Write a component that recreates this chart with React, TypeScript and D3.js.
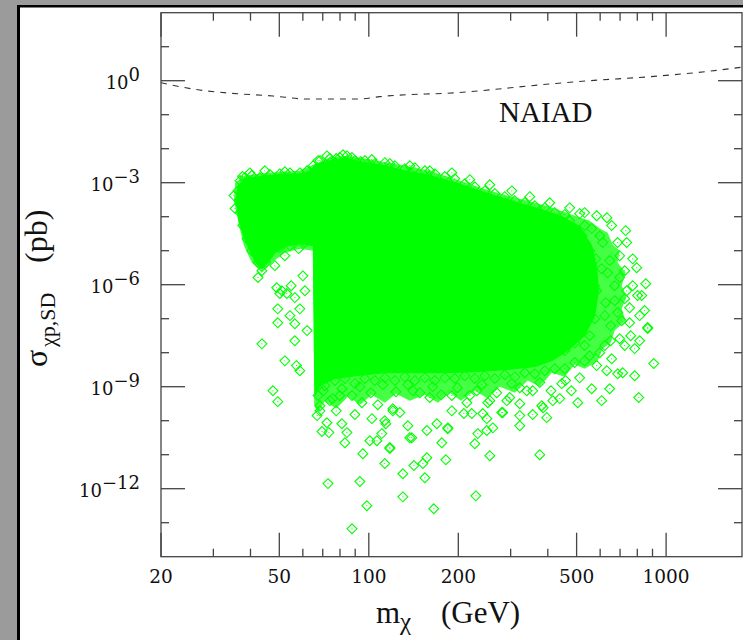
import React, { useEffect, useRef } from "react";
import * as d3 from "d3";

// NAIAD upper limit (mass in GeV, sigma in pb)
const naiadMass = [20, 27, 34.1, 47.6, 61.9, 93.3, 108.9, 202, 406, 553, 881, 1513, 1800];
const naiadSigma = [0.87, 0.53, 0.43, 0.355, 0.29, 0.29, 0.34, 0.45, 0.8, 1.0, 1.31, 2.06, 2.5];

// outer envelope of the scan where points overlap into a mesh [mass GeV, log10 sigma pb]
const meshRegion: [number, number][] = [
  [35.5, -3.0], [38.3, -2.79], [46.5, -2.71], [58.6, -2.65], [65.0, -2.47], [74.0, -2.26],
  [84.4, -2.21], [100.8, -2.32], [127.2, -2.47], [160.4, -2.65], [202.4, -2.94], [255.3, -3.24],
  [322, -3.47], [406.1, -3.71], [492.8, -3.97], [553.4, -4.12], [597.9, -4.35], [636, -4.47],
  [661, -4.82], [698.1, -5.0], [687, -5.35], [731, -5.65], [709, -6.03], [737, -6.35],
  [709, -6.71], [731, -7.06], [671.5, -7.35], [651, -7.71], [612, -7.88], [589, -8.24],
  [532.4, -8.47], [492.8, -8.35], [456.1, -8.71], [412.5, -8.59], [375.9, -9.0], [342.6, -8.82],
  [309.8, -9.18], [275.8, -9.0], [251.4, -9.35], [227.3, -9.12], [204, -9.41], [187.3, -9.18],
  [170.7, -9.47], [154.4, -9.24], [137.4, -9.41], [123.4, -9.21], [113.2, -9.47], [102.4, -9.24],
  [93.3, -9.53], [85.1, -9.29], [77.7, -9.65], [71.2, -9.41], [67.5, -9.76], [65.5, -9.56],
  [65.0, -5.0], [58.6, -4.94], [52.2, -5.06], [47.2, -5.35], [43.7, -5.65], [40.4, -5.35],
  [38.0, -4.85], [36.6, -4.26], [35.2, -3.53],
];

// outline of the solidly filled part of the scan [mass GeV, log10 sigma pb]
const denseRegion: [number, number][] = [
  [36.3, -3.09], [38.3, -2.88], [43.0, -2.82], [50.2, -2.76], [58.6, -2.74], [63.8, -2.65],
  [65.9, -2.47], [74.0, -2.35], [84.4, -2.29], [97.0, -2.41], [113.2, -2.5], [132.2, -2.65],
  [154.4, -2.76], [180.2, -2.91], [210.4, -3.09], [245.6, -3.29], [286.7, -3.47], [334.7, -3.65],
  [390.7, -3.82], [445.7, -4.0], [512, -4.29], [562, -4.85], [584, -5.5], [592, -6.21],
  [575, -6.91], [532, -7.5], [467, -7.94], [412, -8.24], [361.6, -8.41],
  [286.7, -8.5], [227.3, -8.56], [180.2, -8.59], [142.9, -8.59], [113.2, -8.59], [89.8, -8.68],
  [76.9, -8.76], [68.5, -8.97], [65.9, -9.26], [65.0, -4.85], [58.6, -4.79], [52.2, -4.88],
  [48.3, -5.06], [45.8, -5.35], [43.7, -5.53], [41.7, -5.35], [39.8, -5.0], [38.0, -4.59],
  [36.6, -4.12], [35.8, -3.53],
];

// individual scan points [mass GeV, log10 sigma pb]
const upperEdge: [number, number][] = [
  [65.0, -2.5], [68.5, -2.35], [74.0, -2.29], [79.9, -2.26], [84.4, -2.21], [89.8, -2.35],
  [97.0, -2.35], [104.8, -2.44], [113.2, -2.41], [122.4, -2.5], [132.2, -2.59], [142.9, -2.56],
  [154.4, -2.65], [166.7, -2.74], [180.2, -2.82], [194.6, -2.88], [210.4, -3.03], [227.3, -3.12],
  [245.6, -3.24], [265.4, -3.32], [286.7, -3.41], [309.8, -3.53], [334.7, -3.59], [361.6, -3.68],
  [390.7, -3.74], [422.1, -3.88], [456.1, -3.94], [67.5, -2.35], [72.3, -2.21], [77.7, -2.29],
  [81.9, -2.18], [87.8, -2.26], [93.9, -2.38], [102.4, -2.32], [117.7, -2.44], [137.4, -2.5],
  [160.4, -2.65], [190.2, -2.71], [218.6, -2.91], [255.3, -3.06], [302.7, -3.24], [347.9, -3.41],
  [406.1, -3.59], [474, -3.74], [532, -3.88],
];

const leftCloud: [number, number][] = [
  [36.9, -2.94], [38.3, -2.85], [40.4, -2.79], [43.0, -2.85], [46.5, -2.76], [50.2, -2.74],
  [54.3, -2.71], [58.6, -2.71], [62.0, -2.65], [36.3, -3.24], [36.6, -3.53], [36.9, -3.88],
  [37.7, -4.26], [38.9, -4.65], [40.4, -5.0], [42.4, -5.35], [43.7, -5.59], [45.1, -5.35],
  [47.2, -5.0], [50.2, -4.91], [54.3, -4.85], [58.1, -4.94], [61.0, -4.76], [52.2, -5.15],
  [48.3, -5.44], [39.8, -2.71], [44.7, -2.65], [52.2, -2.68], [37.6, -2.82], [35.2, -3.38],
  [35.5, -3.76],
];

const leftTail: [number, number][] = [
  [42.4, -5.79], [49.0, -6.09], [51.0, -6.18], [53.0, -6.26], [56.4, -6.38], [49.4, -6.71],
  [54.3, -6.91], [49.4, -7.12], [56.4, -7.15], [62.0, -7.35], [56.4, -7.65], [43.7, -7.74],
  [47.6, -9.12], [49.4, -9.44], [52.2, -8.24], [57.1, -8.38], [58.6, -8.53], [50.2, -6.26],
  [54.8, -6.03], [58.6, -6.71], [61.0, -6.18], [60.0, -5.74], [45.8, -5.15],
];

const rightTail: [number, number][] = [
  [854, -5.97], [737, -4.76], [731, -4.41], [687, -4.76], [656, -4.26], [632, -4.03],
  [584, -3.97], [512, -3.91], [772, -5.24], [796, -5.5], [802, -6.32], [828, -6.32],
  [737, -6.18], [847, -6.76], [867, -7.26], [754, -6.68], [698, -5.79], [553, -5.0],
  [598, -4.56], [646, -5.29], [672, -6.47], [709, -7.06], [651, -7.65], [598, -8.0],
  [532, -7.79], [726, -7.79], [760, -7.5], [622, -6.91], [575, -6.03], [698, -5.15],
  [532, -4.26], [474, -4.12], [456, -4.18], [483, -4.41], [522, -4.56], [562, -4.35],
  [612, -4.76], [504, -4.94], [580, -5.24], [532, -5.59], [636, -5.65], [671, -6.03],
  [584, -6.18], [532, -6.47], [626, -6.53], [726, -6.41], [575, -7.0], [512, -7.21],
  [651, -7.21], [754, -7.12], [553, -7.5], [698, -7.59], [622, -7.79], [493, -7.71],
  [784, -7.88], [456, -7.94], [553, -8.09], [656, -8.18], [815, -7.65], [726, -5.59],
  [772, -6.03], [815, -6.91], [687, -6.82], [483, -5.24], [553, -5.88], [607, -5.53],
];

const bottomEdge: [number, number][] = [
  [67.5, -9.26], [71.2, -8.97], [76.9, -8.82], [83.1, -8.76], [89.8, -8.91], [97.0, -8.76],
  [104.8, -8.82], [113.2, -8.74], [122.4, -8.82], [132.2, -8.71], [142.9, -8.82], [154.4, -8.74],
  [166.7, -8.82], [180.2, -8.74], [194.6, -8.76], [210.4, -8.68], [227.3, -8.76], [245.6, -8.68],
  [265.4, -8.76], [286.7, -8.65], [309.8, -8.71], [334.7, -8.59], [361.6, -8.62], [390.7, -8.53],
  [422.1, -8.47], [456.1, -8.47], [492.8, -8.29], [532.4, -8.24], [68.5, -9.71], [74.0, -9.41],
  [79.9, -9.26], [67.0, -9.85], [70.3, -9.12], [75.5, -9.35], [81.2, -9.06], [87.8, -9.26],
  [93.3, -9.0], [101.6, -9.18], [111.5, -8.94], [123.4, -9.15], [135.3, -8.94], [148.5, -9.18],
  [164.1, -9.0], [175.1, -9.24], [198.5, -9.03], [218.6, -9.26], [240, -8.94], [269.4, -9.18],
  [302.7, -8.91], [340, -9.12], [375.9, -8.88], [410, -9.12], [459, -8.82], [480, -9.12],
  [77.7, -9.71], [89.8, -9.82], [107.2, -9.53], [127.2, -9.76], [190.2, -9.71], [298, -9.32],
  [438.8, -9.35],
];

const lowerTail: [number, number][] = [
  [72.9, -11.85], [87.8, -13.18], [98.5, -12.5], [93.3, -11.79], [113.2, -11.26], [95.5, -10.97],
  [117.7, -10.82], [130.2, -11.56], [130.2, -12.24], [141.8, -11.32], [154.4, -11.68], [165.4, -12.59],
  [152, -11.26], [156.8, -11.09], [181.6, -11.15], [229.1, -12.21], [255.3, -11.03], [375.9, -11.0],
  [137.4, -10.5], [176, -10.65], [184.4, -10.21], [227.3, -10.68], [169.4, -10.09], [156.8, -10.29],
  [135.3, -10.15], [102.4, -9.94], [114.1, -10.09], [110.6, -10.38], [100.8, -10.59], [106.5, -10.59],
  [83.1, -10.65], [84.4, -10.35], [69.6, -10.32], [73.4, -10.35], [72.3, -10.06], [81.2, -10.09],
  [120.5, -9.71], [68.5, -9.56], [94.8, -9.47], [208.8, -9.79], [222, -9.79], [241.8, -9.79],
  [251.4, -9.47], [261.3, -10.21], [322, -9.85], [322, -10.15], [355.9, -9.82], [381.8, -9.56],
  [282.3, -9.76], [232.6, -10.38], [249.4, -10.29], [867.4, -7.29], [909, -8.32], [809, -9.32],
  [784, -8.68], [714.5, -8.59], [646, -9.06], [607, -9.41], [562, -9.06], [504.5, -9.47],
  [445.7, -8.91], [415.7, -9.41], [396.8, -9.91], [385.8, -9.62], [322, -9.5], [322, -9.03],
  [291.3, -9.41], [280, -9.76], [255.3, -9.41], [249.4, -9.94], [213.7, -9.47], [184.4, -10.24],
  [139.5, -10.5], [120.5, -9.65], [113.2, -10.0], [140.7, -9.12], [160.4, -9.32], [190.2, -9.26],
  [230.9, -9.12], [355.9, -9.12], [512, -8.74], [631.6, -8.53], [687.4, -8.62], [117.7, -10.79],
  [584, -8.38],
];

// axis ticks
const xMajorTicks = [20, 50, 100, 200, 500, 1000];
const xMinorTicks = [30, 40, 60, 70, 80, 90, 300, 400, 600, 700, 800, 900];
const yMajorExp = [0, -3, -6, -9, -12];
const yMinorExp = [1, -1, -2, -4, -5, -7, -8, -10, -11, -13];

const App = () => {
  const svgRef = useRef<SVGSVGElement>(null);

  useEffect(() => {
    const svg = d3.select(svgRef.current);
    svg.selectAll("*").remove();

    const W = 743;
    const H = 640;
    const plot = { left: 161, right: 742, top: 12.7, bottom: 556.7 };

    const x = d3.scaleLog().domain([20, 1800]).range([plot.left, plot.right]);
    const y = d3.scaleLog().domain([1e-14, 1e2]).range([plot.bottom, plot.top]);

    // window frame
    svg.append("rect").attr("width", W).attr("height", H).attr("fill", "#9b9b9b");
    svg.append("rect").attr("x", 17).attr("y", 5).attr("width", W).attr("height", H).attr("fill", "#000");
    svg.append("rect").attr("x", 20).attr("y", 7.5).attr("width", W).attr("height", H).attr("fill", "#fff");

    svg
      .append("clipPath")
      .attr("id", "plotClip")
      .append("rect")
      .attr("x", plot.left)
      .attr("y", plot.top)
      .attr("width", plot.right - plot.left)
      .attr("height", plot.bottom - plot.top);

    const g = svg.append("g").attr("clip-path", "url(#plotClip)");
    const green = "#00ff00";

    const regionLine = d3
      .line<[number, number]>()
      .x((d) => x(d[0]))
      .y((d) => y(Math.pow(10, d[1])))
      .curve(d3.curveLinearClosed);

    // overlapping mesh of points, then the solid core
    g.append("path").attr("d", regionLine(meshRegion)).attr("fill", "#45ff45");
    g.append("path").attr("d", regionLine(denseRegion)).attr("fill", green).attr("stroke", green);

    // individual points: open diamonds with a dot
    const allPoints = [...upperEdge, ...leftCloud, ...leftTail, ...rightTail, ...bottomEdge, ...lowerTail];
    const diamond = d3.symbol().type(d3.symbolDiamond2).size(62);
    const pts = g
      .selectAll(".pt")
      .data(allPoints)
      .enter()
      .append("g")
      .attr("class", "pt")
      .attr("transform", (d) => `translate(${x(d[0])},${y(Math.pow(10, d[1]))})`);
    pts.append("path").attr("d", diamond()).attr("fill", "none").attr("stroke", green).attr("stroke-width", 1.1);
    pts.append("rect").attr("x", -0.5).attr("y", -0.5).attr("width", 1).attr("height", 1).attr("fill", green);

    // NAIAD limit
    const limitLine = d3
      .line<number>()
      .x((d) => x(d))
      .y((d, i) => y(naiadSigma[i]))
      .curve(d3.curveMonotoneX);
    g.append("path")
      .attr("d", limitLine(naiadMass))
      .attr("fill", "none")
      .attr("stroke", "#333")
      .attr("stroke-width", 1.1)
      .attr("stroke-dasharray", "6,6");

    svg
      .append("text")
      .attr("x", 499)
      .attr("y", 122)
      .attr("font-family", "Liberation Serif")
      .attr("font-size", 29)
      .attr("fill", "#111")
      .text("NAIAD");

    // axes frame
    const axisColor = "#444";
    svg
      .append("rect")
      .attr("x", plot.left)
      .attr("y", plot.top)
      .attr("width", plot.right - plot.left)
      .attr("height", plot.bottom - plot.top)
      .attr("fill", "none")
      .attr("stroke", axisColor)
      .attr("stroke-width", 1.3);

    const ticks = svg.append("g").attr("stroke", axisColor).attr("stroke-width", 1.3);
    const xTick = (v: number, len: number) => {
      ticks.append("line").attr("x1", x(v)).attr("x2", x(v)).attr("y1", plot.bottom).attr("y2", plot.bottom - len);
      ticks.append("line").attr("x1", x(v)).attr("x2", x(v)).attr("y1", plot.top).attr("y2", plot.top + len);
    };
    xMajorTicks.forEach((v) => xTick(v, 24));
    xMinorTicks.forEach((v) => xTick(v, 8));
    const yTick = (e: number, len: number) => {
      const yy = y(Math.pow(10, e));
      ticks.append("line").attr("x1", plot.left).attr("x2", plot.left + len).attr("y1", yy).attr("y2", yy);
      ticks.append("line").attr("x1", plot.right).attr("x2", plot.right - len).attr("y1", yy).attr("y2", yy);
    };
    yMajorExp.forEach((e) => yTick(e, 24));
    yMinorExp.forEach((e) => yTick(e, 8));

    // tick labels
    svg
      .selectAll(".xlab")
      .data(xMajorTicks)
      .enter()
      .append("text")
      .attr("x", (d) => x(d))
      .attr("y", 583)
      .attr("text-anchor", "middle")
      .attr("font-family", "DejaVu Serif")
      .attr("font-size", 18.5)
      .attr("fill", "#111")
      .text((d) => String(d));

    const ylab = svg
      .selectAll(".ylab")
      .data(yMajorExp)
      .enter()
      .append("text")
      .attr("x", 140)
      .attr("y", (d) => y(Math.pow(10, d)) + 8)
      .attr("text-anchor", "end")
      .attr("font-family", "DejaVu Serif")
      .attr("font-size", 18)
      .attr("fill", "#111");
    ylab.append("tspan").text("10");
    ylab
      .append("tspan")
      .attr("dy", -8)
      .text((d) => (d < 0 ? "\u2212" + Math.abs(d) : String(d)));

    // x title
    const xt = svg
      .append("text")
      .attr("font-family", "Liberation Serif")
      .attr("fill", "#111");
    xt.append("tspan").attr("x", 376).attr("y", 623).attr("font-size", 31).text("m");
    xt.append("tspan").attr("x", 400).attr("y", 630).attr("font-size", 25).text("\u03c7");
    xt.append("tspan").attr("x", 441).attr("y", 623).attr("font-size", 31).text("(GeV)");

    // y title
    const yt = svg
      .append("text")
      .attr("transform", "translate(47,367) rotate(-90)")
      .attr("font-family", "Liberation Serif")
      .attr("fill", "#111");
    yt.append("tspan").attr("x", 0).attr("y", 0).attr("font-size", 32).text("\u03c3");
    yt.append("tspan").attr("x", 20).attr("y", 8).attr("font-size", 22).text("\u03c7p,SD");
    yt.append("tspan").attr("x", 104).attr("y", 0).attr("font-size", 32).text("(pb)");

    return () => {
      svg.selectAll("*").remove();
    };
  }, []);

  return (
    <div style={{ position: "absolute", left: 0, top: 0 }}>
      <svg ref={svgRef} width={743} height={640} style={{ display: "block" }}></svg>
    </div>
  );
};

export default App;
